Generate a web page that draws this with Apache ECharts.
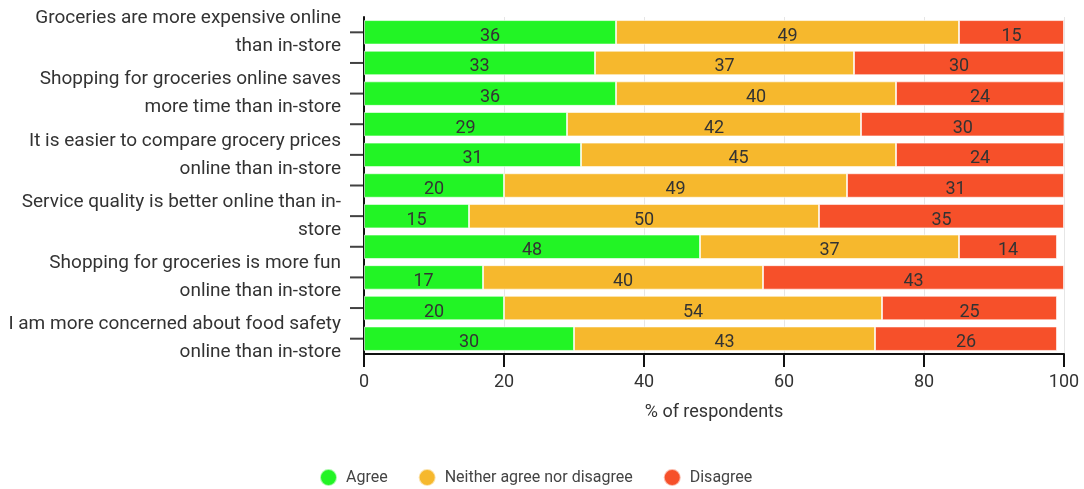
<!DOCTYPE html>
<html>
<head>
<meta charset="utf-8">
<script src="https://cdn.jsdelivr.net/npm/echarts@6/dist/echarts.min.js"></script>
<style>
html,body{margin:0;padding:0;background:#fff;}
#chart{width:1084px;height:489px;}
</style>
</head>
<body>
<div id="chart"></div>
<script>
const categories = [
  "Groceries are more expensive online\nthan in-store",
  "",
  "Shopping for groceries online saves\nmore time than in-store",
  "",
  "It is easier to compare grocery prices\nonline than in-store",
  "",
  "Service quality is better online than in-\nstore",
  "",
  "Shopping for groceries is more fun\nonline than in-store",
  "",
  "I am more concerned about food safety\nonline than in-store"
];
const agree    = [36, 33, 36, 29, 31, 20, 15, 48, 17, 20, 30];
const neither  = [49, 37, 40, 42, 45, 49, 50, 37, 40, 54, 43];
const disagree = [15, 30, 24, 30, 24, 31, 35, 14, 43, 25, 26];
const seriesNames = ["Agree", "Neither agree nor disagree", "Disagree"];
const xTicks = [0, 20, 40, 60, 80, 100];

const FONT = "Roboto";
const colors = ["#22f425", "#f6b82d", "#f6502a"];

function barSeries(name, data, color) {
  return {
    name: name,
    type: "bar",
    stack: "total",
    barCategoryGap: "20%",
    data: data,
    itemStyle: { color: color, borderColor: "rgba(255,255,255,0.6)", borderWidth: 1 },
    label: {
      show: true,
      position: "inside",
      offset: [0, 4],
      color: "#333",
      fontFamily: FONT,
      fontSize: 18
    },
    emphasis: { disabled: true }
  };
}

// y-axis tick marks at the centre of each category band (one per category)
const tickSeries = {
  type: "scatter",
  silent: true,
  clip: false,
  symbol: "rect",
  symbolSize: [14, 2],
  symbolOffset: [-7, 0],
  itemStyle: { color: "#111" },
  data: categories.map(function (c, i) { return [0, i]; }),
  z: 5
};

const chart = echarts.init(document.getElementById("chart"), null, { renderer: "canvas" });
chart.setOption({
  animation: false,
  backgroundColor: "#ffffff",
  textStyle: { fontFamily: FONT },
  grid: { left: 364, right: 20, top: 17, bottom: 135, containLabel: false },
  legend: {
    data: seriesNames,
    left: 314,
    top: 463,
    icon: "circle",
    itemWidth: 25,
    itemHeight: 17,
    itemGap: 30,
    textStyle: { color: "#444", fontSize: 16, fontFamily: FONT }
  },
  xAxis: {
    type: "value",
    min: xTicks[0],
    max: xTicks[xTicks.length - 1],
    interval: 20,
    name: "% of respondents",
    nameLocation: "middle",
    nameGap: 49,
    nameTextStyle: { color: "#333", fontSize: 18, fontFamily: FONT },
    axisLine: { show: true, lineStyle: { color: "#111", width: 2 } },
    axisTick: { show: true, length: 13, lineStyle: { color: "#111", width: 2 } },
    axisLabel: { color: "#333", fontSize: 18, fontFamily: FONT, margin: 19 },
    splitLine: { show: true, lineStyle: { color: "#e6e6e6", width: 1 } }
  },
  yAxis: {
    type: "category",
    inverse: true,
    data: categories,
    axisLine: { show: true, lineStyle: { color: "#111", width: 2 } },
    axisTick: { show: false },
    axisLabel: {
      interval: 1,
      showMinLabel: true,
      showMaxLabel: true,
      color: "#333",
      fontSize: 19,
      fontFamily: FONT,
      lineHeight: 28,
      margin: 23,
      align: "right"
    },
    splitLine: { show: false }
  },
  series: [
    barSeries(seriesNames[0], agree, colors[0]),
    barSeries(seriesNames[1], neither, colors[1]),
    barSeries(seriesNames[2], disagree, colors[2]),
    tickSeries
  ]
});
</script>
</body>
</html>
